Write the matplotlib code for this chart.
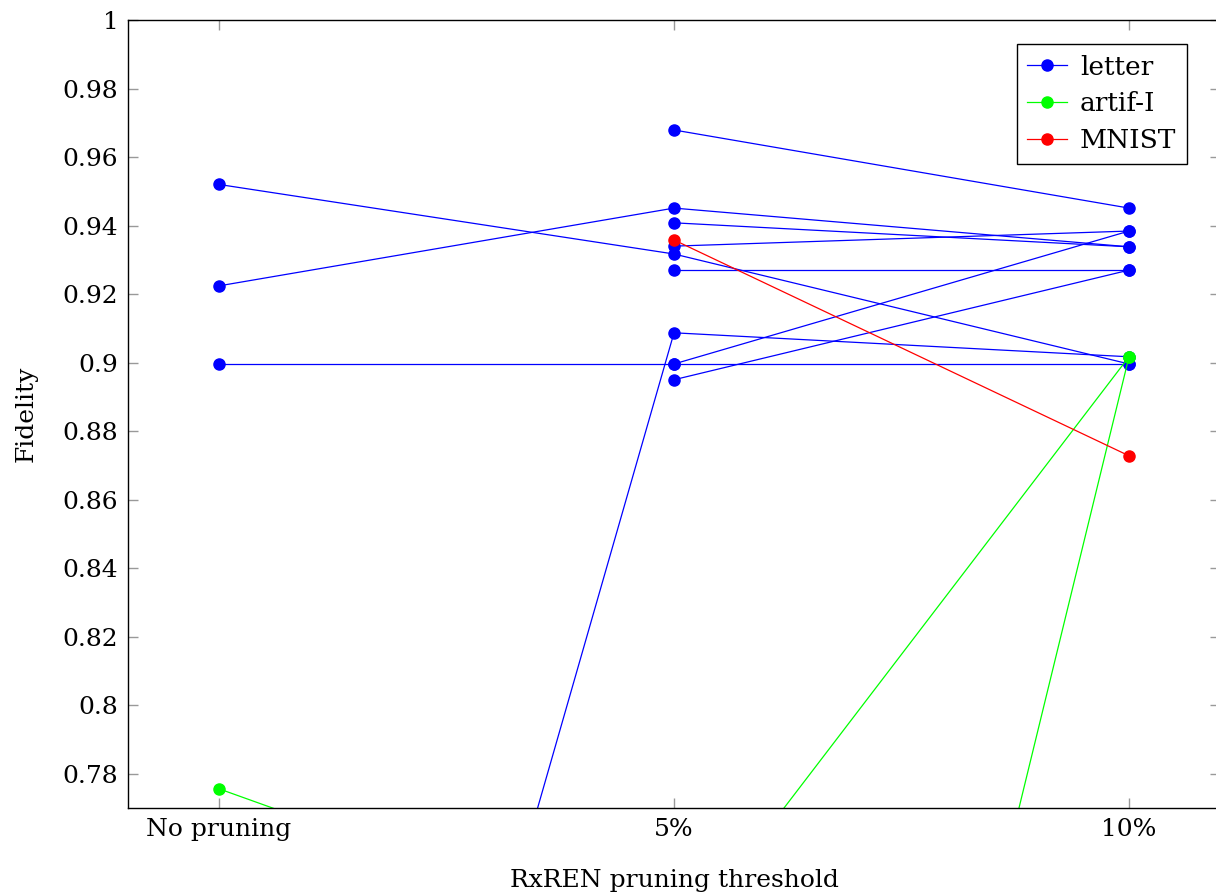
import matplotlib.pyplot as plt
from matplotlib.ticker import FuncFormatter
import numpy as np

nan = float('nan')

# x categories
thresholds = ["No pruning", "5%", "10%"]

# fidelity values per run (No pruning, 5%, 10%)
letter_runs = [
    [0.952, 0.9317, 0.8996],
    [0.9224, 0.9451, 0.9338],
    [0.8996, 0.8996, 0.8996],
    [0.446, 0.9087, 0.9017],
    [nan, 0.9679, 0.9451],
    [nan, 0.9408, 0.9338],
    [nan, 0.9340, 0.9384],
    [nan, 0.9270, 0.9270],
    [nan, 0.8950, 0.9270],
    [nan, 0.8996, 0.9384],
]
artif_runs = [
    [0.7756, 0.728, 0.9017],
    [nan, 0.357, 0.9017],
]
mnist_runs = [
    [nan, 0.9358, 0.8728],
]

fig = plt.figure(figsize=(12.16, 8.93), dpi=100)
ax = fig.add_axes([128/1216, 85/893, 1092/1216, 788/893])

x = np.arange(len(thresholds))

def draw(runs, color, label):
    for i, run in enumerate(runs):
        ax.plot(x, run, color=color, lw=0.9, marker='o', markersize=8,
                label=label if i == 0 else None)

draw(letter_runs, '#0000ff', 'letter')
draw(artif_runs, '#00ff00', 'artif-I')
draw(mnist_runs, '#ff0000', 'MNIST')

ax.set_xlim(-0.2, 2.2)
ax.set_ylim(0.77, 1.0)
ax.set_xticks(x)
ax.set_xticklabels(thresholds)
ax.set_yticks(np.arange(0.78, 1.001, 0.02))
ax.yaxis.set_major_formatter(FuncFormatter(lambda v, p: '%g' % round(v, 2)))

ax.tick_params(direction='in', length=7, width=1, color='#999999',
               top=True, right=True, labelsize=18, pad=7)
for lab in ax.get_xticklabels() + ax.get_yticklabels():
    lab.set_family('DejaVu Serif')
for s in ax.spines.values():
    s.set_linewidth(1)
    s.set_color('black')

ax.set_xlabel('RxREN pruning threshold', family='DejaVu Serif', fontsize=18, labelpad=20)
ax.set_ylabel('Fidelity', family='DejaVu Serif', fontsize=18, labelpad=18)

leg = ax.legend(loc='upper right', prop={'family': 'DejaVu Serif', 'size': 19},
                fancybox=False, edgecolor='black', framealpha=1, handlelength=1.5,
                borderpad=0.4, labelspacing=0.45, handletextpad=0.5, borderaxespad=0)
leg.set_bbox_to_anchor((1187/1216, 1 - 44/893), transform=fig.transFigure)
leg.get_frame().set_linewidth(1)

fig.savefig('out.png', dpi=100)
